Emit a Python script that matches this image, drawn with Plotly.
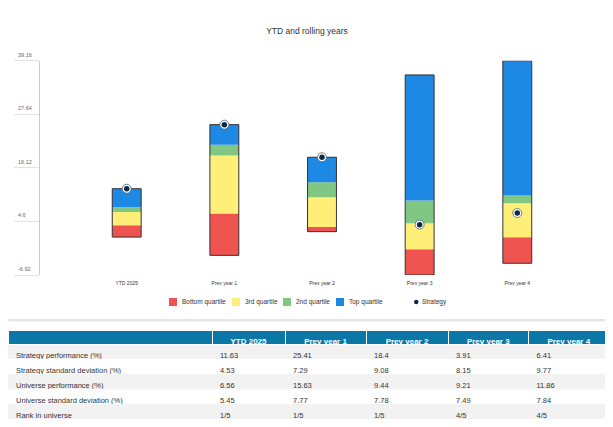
import plotly.graph_objects as go

# the page body keeps the browser's 8px margin, so the figure is drawn 8px smaller
# and every pixel position below is given in window coordinates
OFFSET = 8
W, H = 613 - OFFSET, 427 - OFFSET

categories = ["YTD 2025", "Prev year 1", "Prev year 2", "Prev year 3", "Prev year 4"]

# universe quartile boundaries
universe_min = [1.23, -2.7, 2.4, -6.92, -4.4]
universe_q1 = [3.8, 6.3, 3.4, -1.4, 1.2]
universe_median = [6.6, 18.8, 9.8, 4.2, 8.5]
universe_q3 = [7.67, 21.1, 13.0, 9.1, 10.2]
universe_max = [11.63, 25.41, 18.4, 36.1, 39.16]

# table values
strategy_perf = [11.63, 25.41, 18.4, 3.91, 6.41]
strategy_std = [4.53, 7.29, 9.08, 8.15, 9.77]
universe_perf = [6.56, 15.63, 9.44, 9.21, 11.86]
universe_std = [5.45, 7.77, 7.78, 7.49, 7.84]
rank_in_universe = ["1/5", "1/5", "1/5", "4/5", "4/5"]

row_labels = [
    "Strategy performance (%)",
    "Strategy standard deviation (%)",
    "Universe performance (%)",
    "Universe standard deviation (%)",
    "Rank in universe",
]

y_ticks = [-6.92, 4.6, 16.12, 27.64, 39.16]

RED = "#ef5350"
YELLOW = "#ffee77"
GREEN = "#81c784"
BLUE = "#1e88e5"
NAVY = "#0e2a47"
FONT = "Arial, Liberation Sans, sans-serif"


def px(x):
    return (x - OFFSET) / W


def py(y):
    return 1 - (y - OFFSET) / H


def rounded_rect(x0, y0, x1, y1, r):
    # pixel box (top-left origin) -> paper path with rounded corners
    return (
        f"M{px(x0 + r)},{py(y0)} L{px(x1 - r)},{py(y0)} Q{px(x1)},{py(y0)} {px(x1)},{py(y0 + r)} "
        f"L{px(x1)},{py(y1 - r)} Q{px(x1)},{py(y1)} {px(x1 - r)},{py(y1)} "
        f"L{px(x0 + r)},{py(y1)} Q{px(x0)},{py(y1)} {px(x0)},{py(y1 - r)} "
        f"L{px(x0)},{py(y0 + r)} Q{px(x0)},{py(y0)} {px(x0 + r)},{py(y0)} Z"
    )


fig = go.Figure()

# --- floating quartile bars
bands = [
    ("Bottom quartile", universe_min, universe_q1, RED),
    ("3rd quartile", universe_q1, universe_median, YELLOW),
    ("2nd quartile", universe_median, universe_q3, GREEN),
    ("Top quartile", universe_q3, universe_max, BLUE),
]
for name, lo, hi, color in bands:
    fig.add_trace(go.Bar(
        x=categories, y=[h - l for l, h in zip(lo, hi)], base=lo,
        marker=dict(color=color, line=dict(width=0)),
        width=0.296, name=name, hoverinfo="skip",
    ))

# outline around the whole column
fig.add_trace(go.Bar(
    x=categories, y=[h - l for l, h in zip(universe_min, universe_max)], base=universe_min,
    marker=dict(color="rgba(0,0,0,0)", line=dict(color="#333333", width=1)),
    width=0.296, hoverinfo="skip", name="outline",
))

# --- strategy markers
fig.add_trace(go.Scatter(
    x=categories, y=strategy_perf, mode="markers",
    marker=dict(size=9, color="white", line=dict(color="#4a6680", width=0.8)),
    hoverinfo="skip", name="halo",
))
fig.add_trace(go.Scatter(
    x=categories, y=strategy_perf, mode="markers",
    marker=dict(size=5.5, color=NAVY), name="Strategy",
))

# --- table
row_fills = ["#f2f2f2", "#ffffff", "#f2f2f2", "#ffffff", "#f2f2f2"]
columns = [row_labels]
for i in range(len(categories)):
    columns.append([
        f"{strategy_perf[i]:g}", f"{strategy_std[i]:g}", f"{universe_perf[i]:g}",
        f"{universe_std[i]:g}", rank_in_universe[i],
    ])

fig.add_trace(go.Table(
    domain=dict(x=[0, px(609)], y=[0, py(330)]),
    columnwidth=[204, 73, 81, 82, 80.5, 80.5],
    header=dict(
        values=[""] + categories, fill_color="#0b77a6", align="center", height=14,
        font=dict(color="white", size=8, family=FONT, weight="bold"),
        line=dict(color="white", width=1),
    ),
    cells=dict(
        values=columns, fill_color=[row_fills] * 6, align="left", height=15,
        font=dict(color="#333333", size=7.5, family=FONT), line=dict(color="rgba(0,0,0,0)", width=0),
    ),
))

# --- card background with a soft shadow
shapes = [
    dict(type="path", path=rounded_rect(4, 16, 611, 322, 6), xref="paper", yref="paper",
         fillcolor="rgba(0,0,0,0.04)", line=dict(width=0), layer="below"),
    dict(type="path", path=rounded_rect(5, 17, 610, 321, 5), xref="paper", yref="paper",
         fillcolor="rgba(0,0,0,0.06)", line=dict(width=0), layer="below"),
    dict(type="path", path=rounded_rect(5, 16, 609, 319, 5), xref="paper", yref="paper",
         fillcolor="white", line=dict(width=0), layer="below"),
]

annotations = []
# y tick labels sit above their tick lines
for v in y_ticks:
    annotations.append(dict(
        x=px(16), xref="paper", y=v, yref="y", yshift=6, text=f"{v:g}",
        xanchor="left", yanchor="middle", showarrow=False,
        font=dict(size=5.5, color="#666666", family=FONT),
    ))

# --- manual legend (tight symbol/text spacing)
legend_items = [("Bottom quartile", RED, 169), ("3rd quartile", YELLOW, 232),
                ("2nd quartile", GREEN, 283), ("Top quartile", BLUE, 336)]
ly = 302
for text, color, x0 in legend_items:
    shapes.append(dict(type="rect", xref="paper", yref="paper",
                       x0=px(x0), x1=px(x0 + 8), y0=py(ly + 4), y1=py(ly - 4),
                       fillcolor=color, line=dict(width=0)))
    annotations.append(dict(x=px(x0 + 11), y=py(ly), xref="paper", yref="paper", text=text,
                            xanchor="left", yanchor="middle", showarrow=False,
                            font=dict(size=6.5, color="#333333", family=FONT)))
shapes.append(dict(type="circle", xref="paper", yref="paper",
                   x0=px(414), x1=px(418.5), y0=py(ly + 2.25), y1=py(ly - 2.25),
                   fillcolor=NAVY, line=dict(width=0)))
annotations.append(dict(x=px(420), y=py(ly), xref="paper", yref="paper", text="Strategy",
                        xanchor="left", yanchor="middle", showarrow=False,
                        font=dict(size=6.5, color="#333333", family=FONT)))

fig.update_layout(
    width=W, height=H,
    margin=dict(l=0, r=0, t=0, b=0),
    paper_bgcolor="white", plot_bgcolor="rgba(0,0,0,0)",
    barmode="overlay", showlegend=False,
    font=dict(family=FONT, color="#333333"),
    title=dict(text="YTD and rolling years", x=px(307), xanchor="center", y=py(31), yanchor="middle",
               font=dict(size=8.5, color="#333333", family=FONT)),
    xaxis=dict(domain=[px(40), px(604)], type="category", categoryorder="array",
               categoryarray=categories, range=[-0.888, 4.888], showline=False, showgrid=False,
               zeroline=False, ticks="", ticklabelstandoff=4,
               tickfont=dict(size=5, color="#333333", family=FONT)),
    yaxis=dict(domain=[py(275), py(60.7)], range=[-6.92, 39.16], tickvals=y_ticks,
               showticklabels=False, ticks="outside", ticklen=25, tickcolor="#e3e3e3",
               tickwidth=1, showline=True, linecolor="#cccccc", linewidth=1,
               showgrid=False, zeroline=False),
    shapes=shapes, annotations=annotations,
)

fig.write_html("out.html")
